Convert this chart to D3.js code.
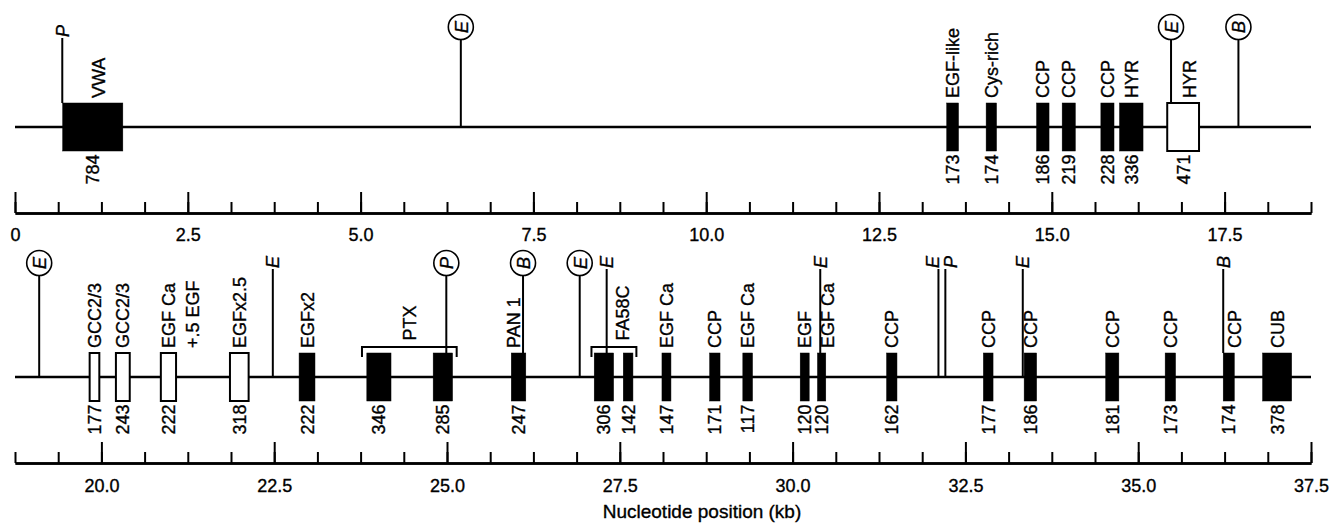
<!DOCTYPE html>
<html>
<head>
<meta charset="utf-8">
<script src="https://cdn.jsdelivr.net/npm/d3@7"></script>
<style>
  html, body { margin: 0; padding: 0; background: #fff; }
  svg { display: block; }
  text { font-family: "Liberation Sans", Arial, Helvetica, sans-serif; fill: #000; stroke: #000; stroke-width: 0.35px; }
</style>
</head>
<body>
<svg id="chart" width="1330" height="524"></svg>
<script>
// ---------------- DATA (kb positions) ----------------
// Upper panel: 0 - 18.75 kb
const topExons = [
  { name: "VWA",      start: 0.69,  end: 1.56,  bp: 784, filled: true },
  { name: "EGF-like", start: 13.48, end: 13.65, bp: 173, filled: true },
  { name: "Cys-rich", start: 14.05, end: 14.20, bp: 174, filled: true },
  { name: "CCP",      start: 14.78, end: 14.96, bp: 186, filled: true },
  { name: "CCP",      start: 15.15, end: 15.34, bp: 219, filled: true },
  { name: "CCP",      start: 15.71, end: 15.90, bp: 228, filled: true },
  { name: "HYR",      start: 15.98, end: 16.32, bp: 336, filled: true },
  { name: "HYR",      start: 16.67, end: 17.13, bp: 471, filled: false }
];
const topMarkers = [
  { kb: 0.684, letter: "P", circled: false },
  { kb: 6.45,  letter: "E", circled: true },
  { kb: 16.725, letter: "E", circled: true },
  { kb: 17.70, letter: "B", circled: true }
];
const topBrackets = [];

// Lower panel: 18.75 - 37.5 kb
const bottomExons = [
  { name: ["GCC2/3"],            start: 19.83, end: 19.97, bp: 177, filled: false },
  { name: ["GCC2/3"],            start: 20.21, end: 20.41, bp: 243, filled: false },
  { name: ["EGF Ca", "+.5 EGF"], start: 20.86, end: 21.08, bp: 222, filled: false },
  { name: ["EGFx2.5"],           start: 21.86, end: 22.13, bp: 318, filled: false },
  { name: ["EGFx2"],             start: 22.86, end: 23.09, bp: 222, filled: true },
  { name: [],                    start: 23.84, end: 24.19, bp: 346, filled: true },
  { name: [],                    start: 24.80, end: 25.08, bp: 285, filled: true },
  { name: ["PAN 1"],             start: 25.93, end: 26.14, bp: 247, filled: true },
  { name: [],                    start: 27.13, end: 27.41, bp: 306, filled: true },
  { name: [],                    start: 27.55, end: 27.69, bp: 142, filled: true },
  { name: ["EGF Ca"],            start: 28.11, end: 28.24, bp: 147, filled: true },
  { name: ["CCP"],               start: 28.80, end: 28.95, bp: 171, filled: true },
  { name: ["EGF Ca"],            start: 29.28, end: 29.42, bp: 117, filled: true },
  { name: ["EGF"],               start: 30.11, end: 30.24, bp: 120, filled: true },
  { name: ["EGF Ca"],            start: 30.36, end: 30.48, bp: 120, filled: true },
  { name: ["CCP"],               start: 31.36, end: 31.51, bp: 162, filled: true },
  { name: ["CCP"],               start: 32.76, end: 32.90, bp: 177, filled: true },
  { name: ["CCP"],               start: 33.35, end: 33.53, bp: 186, filled: true },
  { name: ["CCP"],               start: 34.53, end: 34.72, bp: 181, filled: true },
  { name: ["CCP"],               start: 35.39, end: 35.54, bp: 173, filled: true },
  { name: ["CCP"],               start: 36.23, end: 36.39, bp: 174, filled: true },
  { name: ["CUB"],               start: 36.80, end: 37.22, bp: 378, filled: true }
];
const bottomMarkers = [
  { kb: 19.10, letter: "E", circled: true },
  { kb: 22.48, letter: "E", circled: false },
  { kb: 24.99, letter: "P", circled: true },
  { kb: 26.10, letter: "B", circled: true },
  { kb: 26.92, letter: "E", circled: true },
  { kb: 27.31, letter: "E", circled: false },
  { kb: 30.40, letter: "E", circled: false },
  { kb: 32.11, letter: "E", circled: false },
  { kb: 32.21, letter: "P", circled: false },
  { kb: 33.33, letter: "E", circled: false },
  { kb: 36.23, letter: "B", circled: false }
];
const bottomBrackets = [
  { label: "PTX",   start: 23.77, end: 25.14 },
  { label: "FA58C", start: 27.09, end: 27.74 }
];

const topDomain = [0, 18.75];
const bottomDomain = [18.75, 37.5];
const topMajorTicks = [0, 2.5, 5, 7.5, 10, 12.5, 15, 17.5];
const topTickLabels = ["0", "2.5", "5.0", "7.5", "10.0", "12.5", "15.0", "17.5"];
const bottomMajorTicks = [20, 22.5, 25, 27.5, 30, 32.5, 35, 37.5];
const bottomTickLabels = ["20.0", "22.5", "25.0", "27.5", "30.0", "32.5", "35.0", "37.5"];
const minorStep = 0.625;
const axisTitle = "Nucleotide position (kb)";

// ---------------- DRAWING ----------------
const svg = d3.select("#chart");
svg.append("rect").attr("width", 1330).attr("height", 524).attr("fill", "#fff");

const X0 = 15, X1 = 1311;
const BLOCK_H = 24;
const FONT = 18;
const LETTER_FONT = 18;

const rows = [
  { domain: topDomain, exons: topExons, markers: topMarkers, brackets: topBrackets,
    lineY: 127, axisY: 213, circleY: 27, plainTop: 38, major: topMajorTicks, labels: topTickLabels, padding: 15 },
  { domain: bottomDomain, exons: bottomExons, markers: bottomMarkers, brackets: bottomBrackets,
    lineY: 377, axisY: 463, circleY: 263, plainTop: 269, major: bottomMajorTicks, labels: bottomTickLabels, padding: 16 }
];

rows.forEach(row => {
  const x = d3.scaleLinear().domain(row.domain).range([X0, X1]);
  const g = svg.append("g");

  // ---- axis ----
  const minor = d3.range(row.domain[0], row.domain[1] + 1e-6, minorStep);
  const axMinor = d3.axisBottom(x).tickValues(minor).tickSizeInner(-11).tickSizeOuter(0).tickFormat("");
  const axMajor = d3.axisBottom(x).tickValues(row.major).tickSizeInner(-21).tickSizeOuter(0)
      .tickPadding(row.padding)
      .tickFormat((d, i) => row.labels[i]);
  const gMinor = g.append("g").attr("transform", `translate(0,${row.axisY})`).call(axMinor);
  const gMajor = g.append("g").attr("transform", `translate(0,${row.axisY})`).call(axMajor);
  [gMinor, gMajor].forEach(a => {
    a.select(".domain").attr("stroke", "#000").attr("stroke-width", 2.5);
    a.selectAll(".tick line").attr("stroke", "#000").attr("stroke-width", 2);
    a.selectAll(".tick text").attr("font-size", FONT).attr("fill", "#000")
      .attr("font-family", '"Liberation Sans", Arial, sans-serif');
  });

  // ---- gene line ----
  g.append("line")
    .attr("x1", x(row.domain[0])).attr("x2", x(row.domain[1]))
    .attr("y1", row.lineY).attr("y2", row.lineY)
    .attr("stroke", "#000").attr("stroke-width", 2.5);

  const markerInBlock = (m) => row.exons.find(e => m.kb >= e.start - 0.01 && m.kb <= e.end + 0.01);

  // ---- markers (lines + letters) ----
  row.markers.forEach((m, i) => {
    const mx = x(m.kb);
    const top = m.circled ? row.circleY + 12.5 : row.plainTop;
    const bottom = markerInBlock(m) ? row.lineY - BLOCK_H : row.lineY;
    g.append("line").attr("x1", mx).attr("x2", mx).attr("y1", top).attr("y2", bottom)
      .attr("stroke", "#000").attr("stroke-width", 2);
    if (m.circled) {
      g.append("circle").attr("cx", mx).attr("cy", row.circleY).attr("r", 12.5)
        .attr("fill", "#fff").attr("stroke", "#000").attr("stroke-width", 1.6);
      g.append("text")
        .attr("transform", `translate(${mx + 0.5},${row.circleY}) rotate(-90)`)
        .attr("text-anchor", "middle").attr("dy", "0.36em")
        .attr("font-size", LETTER_FONT).attr("font-style", "italic")
        .text(m.letter);
    } else {
      // spread letters of neighbouring plain markers apart
      let dx = 0;
      const prev = row.markers[i - 1], next = row.markers[i + 1];
      if (next && !next.circled && x(next.kb) - mx < 12) dx = -6;
      else if (prev && !prev.circled && mx - x(prev.kb) < 12) dx = 5;
      g.append("text")
        .attr("transform", `translate(${mx + dx},${row.plainTop - 1}) rotate(-90)`)
        .attr("text-anchor", "start").attr("dy", "0.36em")
        .attr("font-size", LETTER_FONT).attr("font-style", "italic")
        .text(m.letter);
    }
  });

  // ---- exon blocks ----
  row.exons.forEach(e => {
    const x1 = x(e.start), x2 = x(e.end);
    g.append("rect")
      .attr("x", x1).attr("y", row.lineY - BLOCK_H)
      .attr("width", x2 - x1).attr("height", 2 * BLOCK_H)
      .attr("fill", e.filled ? "#000" : "#fff")
      .attr("stroke", "#000").attr("stroke-width", e.filled ? 0.5 : 2);
  });

  // ---- exon labels ----
  row.exons.forEach(e => {
    const cx = (x(e.start) + x(e.end)) / 2;
    // size label below
    g.append("text")
      .attr("transform", `translate(${cx},${row.lineY + BLOCK_H + 3.5}) rotate(-90)`)
      .attr("text-anchor", "end").attr("dy", "0.36em")
      .attr("font-size", FONT)
      .text(e.bp);
    // domain name above (nudged away from a marker line crossing the block)
    const names = Array.isArray(e.name) ? e.name : [e.name];
    if (names.length && names[0]) {
      const m = row.markers.find(mm => mm.kb >= e.start - 0.01 && mm.kb <= e.end + 0.01);
      let lx = cx;
      if (m) lx = cx + (cx >= x(m.kb) ? 6 : -5);
      const t = g.append("text")
        .attr("transform", `translate(${lx},${row.lineY - BLOCK_H - 5}) rotate(-90)`)
        .attr("text-anchor", "start").attr("font-size", FONT);
      names.forEach((n, i) => {
        t.append("tspan").attr("x", 0).attr("dy", i === 0 ? "0.36em" : "1.33em").text(n);
      });
    }
  });

  // ---- brackets ----
  row.brackets.forEach(b => {
    const bx1 = x(b.start), bx2 = x(b.end);
    const by = row.lineY - 30;
    g.append("path")
      .attr("d", `M${bx1},${by + 10}V${by}H${bx2}V${by + 10}`)
      .attr("fill", "none").attr("stroke", "#000").attr("stroke-width", 2);
    let lx = (bx1 + bx2) / 2;
    const m = row.markers.find(mm => Math.abs(x(mm.kb) - lx) < 12);
    if (m) lx = x(m.kb) + (lx >= x(m.kb) ? 16 : -16);
    g.append("text")
      .attr("transform", `translate(${lx},${by - 6.5}) rotate(-90)`)
      .attr("text-anchor", "start").attr("dy", "0.36em")
      .attr("font-size", FONT)
      .text(b.label);
  });
});

// ---- axis title ----
svg.append("text")
  .attr("x", 702).attr("y", 518)
  .attr("text-anchor", "middle").attr("font-size", 19)
  .text(axisTitle);
</script>
</body>
</html>
